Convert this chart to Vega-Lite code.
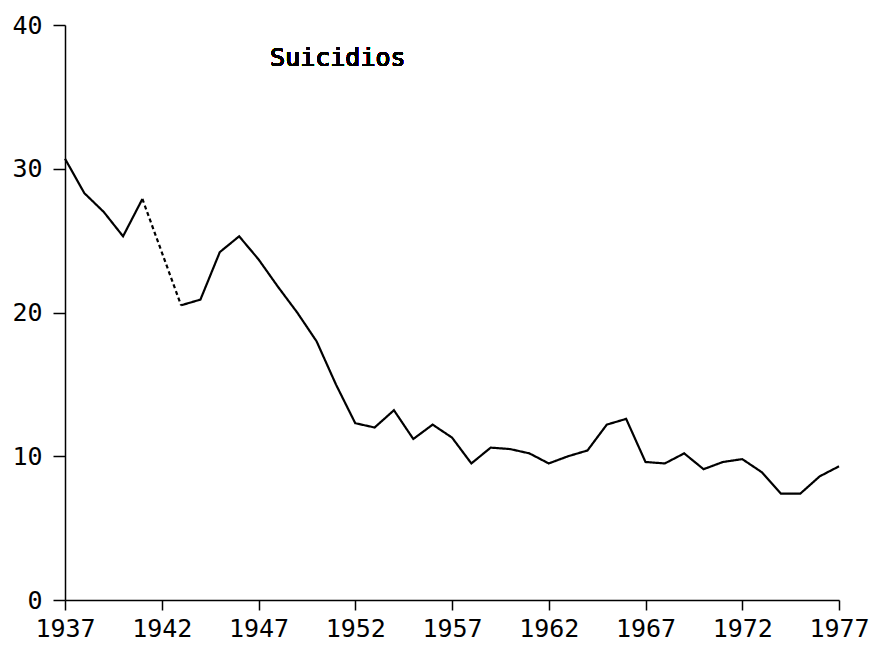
{
  "$schema": "https://vega.github.io/schema/vega-lite/v6.json",
  "width": 774,
  "height": 575,
  "autosize": "none",
  "padding": {"left": 65, "top": 25, "right": 30, "bottom": 50},
  "background": "white",
  "config": {
    "view": {"stroke": null},
    "axis": {
      "grid": false,
      "domainColor": "black",
      "domainWidth": 1.5,
      "tickColor": "black",
      "tickWidth": 1.5,
      "labelColor": "black",
      "labelFont": "DejaVu Sans Mono",
      "labelFontSize": 25,
      "title": null
    }
  },
  "data": {
    "values": [
      {"year": 1937, "value": 30.7, "seg": "a"},
      {"year": 1938, "value": 28.3, "seg": "a"},
      {"year": 1939, "value": 27.0, "seg": "a"},
      {"year": 1940, "value": 25.3, "seg": "a"},
      {"year": 1941, "value": 27.9, "seg": "a"},
      {"year": 1941, "value": 27.9, "seg": "b"},
      {"year": 1943, "value": 20.5, "seg": "b"},
      {"year": 1943, "value": 20.5, "seg": "c"},
      {"year": 1944, "value": 20.9, "seg": "c"},
      {"year": 1945, "value": 24.2, "seg": "c"},
      {"year": 1946, "value": 25.3, "seg": "c"},
      {"year": 1947, "value": 23.7, "seg": "c"},
      {"year": 1948, "value": 21.8, "seg": "c"},
      {"year": 1949, "value": 20.0, "seg": "c"},
      {"year": 1950, "value": 18.0, "seg": "c"},
      {"year": 1951, "value": 15.0, "seg": "c"},
      {"year": 1952, "value": 12.3, "seg": "c"},
      {"year": 1953, "value": 12.0, "seg": "c"},
      {"year": 1954, "value": 13.2, "seg": "c"},
      {"year": 1955, "value": 11.2, "seg": "c"},
      {"year": 1956, "value": 12.2, "seg": "c"},
      {"year": 1957, "value": 11.3, "seg": "c"},
      {"year": 1958, "value": 9.5, "seg": "c"},
      {"year": 1959, "value": 10.6, "seg": "c"},
      {"year": 1960, "value": 10.5, "seg": "c"},
      {"year": 1961, "value": 10.2, "seg": "c"},
      {"year": 1962, "value": 9.5, "seg": "c"},
      {"year": 1963, "value": 10.0, "seg": "c"},
      {"year": 1964, "value": 10.4, "seg": "c"},
      {"year": 1965, "value": 12.2, "seg": "c"},
      {"year": 1966, "value": 12.6, "seg": "c"},
      {"year": 1967, "value": 9.6, "seg": "c"},
      {"year": 1968, "value": 9.5, "seg": "c"},
      {"year": 1969, "value": 10.2, "seg": "c"},
      {"year": 1970, "value": 9.1, "seg": "c"},
      {"year": 1971, "value": 9.6, "seg": "c"},
      {"year": 1972, "value": 9.8, "seg": "c"},
      {"year": 1973, "value": 8.9, "seg": "c"},
      {"year": 1974, "value": 7.4, "seg": "c"},
      {"year": 1975, "value": 7.4, "seg": "c"},
      {"year": 1976, "value": 8.6, "seg": "c"},
      {"year": 1977, "value": 9.3, "seg": "c"}
    ]
  },
  "layer": [
    {
      "mark": {"type": "line", "color": "black", "strokeWidth": 2.2},
      "encoding": {
        "x": {
          "field": "year",
          "type": "quantitative",
          "scale": {"domain": [1937, 1977], "nice": false, "zero": false},
          "axis": {
            "values": [1937, 1942, 1947, 1952, 1957, 1962, 1967, 1972, 1977],
            "format": "d",
            "tickSize": 10,
            "labelPadding": 6,
            "labelFlush": false,
            "labelOverlap": false
          }
        },
        "y": {
          "field": "value",
          "type": "quantitative",
          "scale": {"domain": [0, 40], "nice": false},
          "axis": {
            "values": [0, 10, 20, 30, 40],
            "tickSize": 12,
            "labelPadding": 11,
            "labelFlush": false,
            "labelOverlap": false
          }
        },
        "detail": {"field": "seg"},
        "strokeDash": {
          "field": "seg",
          "type": "nominal",
          "scale": {"domain": ["a", "b", "c"], "range": [[1, 0], [4, 3], [1, 0]]},
          "legend": null
        }
      }
    },
    {
      "mark": {
        "type": "text",
        "text": "Suicidios",
        "font": "DejaVu Sans Mono",
        "fontSize": 25,
        "fontWeight": "normal",
        "color": "black",
        "align": "center",
        "baseline": "middle"
      },
      "encoding": {
        "x": {"datum": 1951.1, "type": "quantitative"},
        "y": {"datum": 37.7, "type": "quantitative"}
      }
    }
  ]
}
